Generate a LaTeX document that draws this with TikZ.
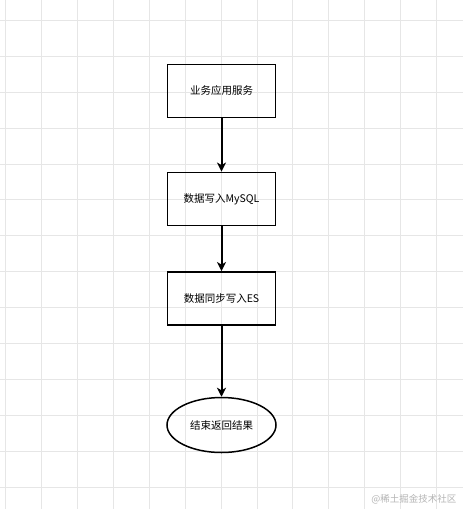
\documentclass[tikz,border=0pt]{standalone}
\usepackage{fontspec}
\setmainfont{Noto Sans CJK SC}
\usetikzlibrary{arrows.meta,shapes.geometric}
\definecolor{gridgray}{HTML}{E6E6E6}
\definecolor{markgray}{HTML}{B4B4B4}

\begin{document}
\begin{tikzpicture}[x=1pt,y=-1pt,
  stepbox/.style={draw,line width=1.9pt,minimum width=108pt,minimum height=53pt,inner sep=0pt,font=\fontsize{10.5}{12}\selectfont},
  endbox/.style={ellipse,draw,line width=1.5pt,minimum width=109pt,minimum height=55pt,inner sep=0pt,font=\fontsize{10.5}{12}\selectfont},
  flow/.style={line width=2pt,-{Stealth[length=9pt,width=9pt,inset=2.5pt]}}]
\useasboundingbox (0,0) rectangle (463,509);
\fill[white] (0,0) rectangle (463,509);
\foreach \i in {0,...,12} \draw[gridgray,line width=0.8pt] (5.6+35.9*\i,0) -- (5.6+35.9*\i,509);
\foreach \i in {0,...,14} \draw[gridgray,line width=0.8pt] (0,20.3+35.9*\i) -- (463,20.3+35.9*\i);
\node[stepbox] (app) at (221.5,91) {业务应用服务};
\node[stepbox] (mysql) at (221.5,199) {数据写入MySQL};
\node[stepbox] (es) at (221.5,298.5) {数据同步写入ES};
\node[endbox] (done) at (221.5,425) {结束返回结果};
\draw[flow] (app) -- (mysql);
\draw[flow] (mysql) -- (es);
\draw[flow] (es) -- (done);
\node[text=markgray,font=\fontsize{9.5}{11}\selectfont,anchor=east] (mark) at (460,499) {@稀土掘金技术社区};
\end{tikzpicture}
\end{document}
